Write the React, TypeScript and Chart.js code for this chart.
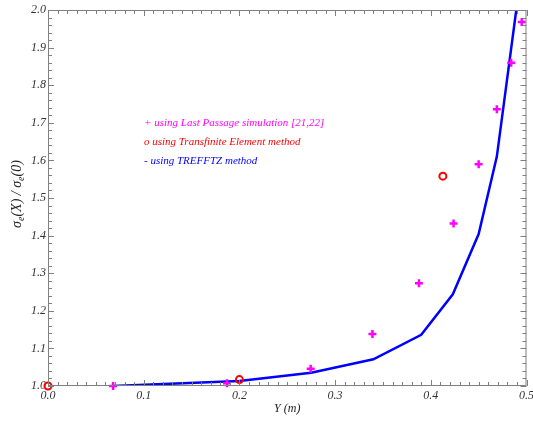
import React, { useEffect, useRef } from "react";
import { Chart, registerables } from "chart.js";

Chart.register(...registerables);

// Last Passage simulation (+)
const lpX = [0.068, 0.187, 0.2745, 0.339, 0.3876, 0.4238, 0.45, 0.469, 0.484, 0.495];
const lpY = [1.0, 1.007, 1.046, 1.138, 1.273, 1.432, 1.59, 1.736, 1.86, 1.968];

// Transfinite Element method (o)
const teX = [0.0, 0.2, 0.4126];
const teY = [1.0, 1.017, 1.558];

// TREFFTZ method (-)
const trX = [0.068, 0.2, 0.275, 0.34, 0.39, 0.423, 0.45, 0.469, 0.4893];
const trY = [1.0, 1.013, 1.035, 1.071, 1.136, 1.244, 1.404, 1.61, 2.0];

const xTickLabels = ["0.0", "0.1", "0.2", "0.3", "0.4", "0.5"];
const yTickLabels = ["1.0", "1.1", "1.2", "1.3", "1.4", "1.5", "1.6", "1.7", "1.8", "1.9", "2.0"];

const legendLines = [
  { text: "+ using Last Passage simulation [21,22]", color: "#ff00ff" },
  { text: "o using Transfinite Element method", color: "#ff0000" },
  { text: "- using TREFFTZ method", color: "#0000ff" },
];

const xTitle = "Y (m)";

const toPts = (xs: number[], ys: number[]) => xs.map((x, i) => ({ x, y: ys[i] }));

const framePlugin = {
  id: "frame",
  afterDraw(chart: any) {
    const { ctx, chartArea: a, scales } = chart;
    const xs = scales.x;
    const ys = scales.y;
    ctx.save();
    ctx.strokeStyle = "#808080";
    ctx.lineWidth = 1;
    ctx.strokeRect(a.left + 0.5, a.top + 0.5, a.right - a.left - 1, a.bottom - a.top - 1);
    ctx.beginPath();
    for (let i = 0; i <= 50; i++) {
      const v = i * 0.01;
      const px = Math.round(xs.getPixelForValue(v)) + 0.5;
      const len = i % 10 === 0 ? 6 : 4;
      ctx.moveTo(px, a.bottom);
      ctx.lineTo(px, a.bottom - len);
      ctx.moveTo(px, a.top);
      ctx.lineTo(px, a.top + len);
    }
    for (let i = 0; i <= 50; i++) {
      const v = 1 + i * 0.02;
      const py = Math.round(ys.getPixelForValue(v)) + 0.5;
      const len = i % 5 === 0 ? 6 : 4;
      ctx.moveTo(a.left, py);
      ctx.lineTo(a.left + len, py);
      ctx.moveTo(a.right, py);
      ctx.lineTo(a.right - len, py);
    }
    ctx.stroke();

    // legend text
    ctx.font = "italic 11px 'Liberation Serif', serif";
    ctx.textBaseline = "middle";
    ctx.textAlign = "left";
    legendLines.forEach((l, i) => {
      ctx.fillStyle = l.color;
      ctx.fillText(l.text, 144, 123 + i * 19);
    });

    // x title
    ctx.fillStyle = "#222";
    ctx.font = "italic 12px 'Liberation Serif', serif";
    ctx.textAlign = "center";
    ctx.fillText(xTitle, (a.left + a.right) / 2, 409);

    // y title with subscripts
    const segs = [
      { t: "σ", sub: false },
      { t: "e", sub: true },
      { t: "(X) / σ", sub: false },
      { t: "e", sub: true },
      { t: "(0)", sub: false },
    ];
    const big = "italic 14px 'Liberation Serif', serif";
    const small = "italic 10px 'Liberation Serif', serif";
    let total = 0;
    const widths = segs.map((s) => {
      ctx.font = s.sub ? small : big;
      const w = ctx.measureText(s.t).width;
      total += w;
      return w;
    });
    ctx.translate(17, 194);
    ctx.rotate(-Math.PI / 2);
    ctx.textAlign = "left";
    let cx = -total / 2;
    segs.forEach((s, i) => {
      ctx.font = s.sub ? small : big;
      ctx.fillText(s.t, cx, s.sub ? 4 : 0);
      cx += widths[i];
    });
    ctx.restore();
  },
};

export default function App() {
  const ref = useRef<HTMLCanvasElement | null>(null);
  useEffect(() => {
    if (!ref.current) return;
    const chart = new Chart(ref.current, {
      type: "scatter",
      data: {
        datasets: [
          {
            label: "Last Passage simulation",
            data: toPts(lpX, lpY),
            pointStyle: "cross",
            pointRadius: 4,
            pointBorderWidth: 2.5,
            borderColor: "#ff00ff",
            backgroundColor: "#ff00ff",
            showLine: false,
            clip: false,
          },
          {
            label: "Transfinite Element method",
            data: toPts(teX, teY),
            pointStyle: "circle",
            pointRadius: 3.5,
            pointBorderWidth: 2,
            borderColor: "#ff0000",
            backgroundColor: "rgba(0,0,0,0)",
            showLine: false,
            clip: false,
          },
          {
            label: "TREFFTZ method",
            data: toPts(trX, trY),
            showLine: true,
            borderColor: "#0000ff",
            backgroundColor: "#0000ff",
            borderWidth: 2.5,
            pointRadius: 0,
            tension: 0,
          },
        ],
      },
      options: {
        animation: false,
        responsive: false,
        maintainAspectRatio: false,
        layout: { padding: { left: 0, top: 10, right: 6, bottom: 0 } },
        plugins: { legend: { display: false }, tooltip: { enabled: false } },
        scales: {
          x: {
            type: "linear",
            min: 0,
            max: 0.5,
            afterFit: (s: any) => {
              s.height = 35;
              s.paddingLeft = 0;
              s.paddingRight = 0;
            },
            afterBuildTicks: (s: any) => {
              s.ticks = xTickLabels.map((l) => ({ value: parseFloat(l) }));
            },
            grid: { display: false, drawTicks: false },
            border: { display: false },
            ticks: {
              padding: 3,
              color: "#333",
              font: { family: "'Liberation Serif', serif", style: "italic", size: 12 },
              callback: (v: any) => {
                const f = xTickLabels.find((l) => Math.abs(parseFloat(l) - v) < 1e-6);
                return f ?? "";
              },
              maxRotation: 0,
              autoSkip: false,
            },
          },
          y: {
            type: "linear",
            min: 1,
            max: 2,
            afterFit: (s: any) => {
              s.width = 48;
              s.paddingTop = 0;
              s.paddingBottom = 0;
            },
            afterBuildTicks: (s: any) => {
              s.ticks = yTickLabels.map((l) => ({ value: parseFloat(l) }));
            },
            grid: { display: false, drawTicks: false },
            border: { display: false },
            ticks: {
              padding: 2,
              color: "#333",
              font: { family: "'Liberation Serif', serif", style: "italic", size: 12 },
              callback: (v: any) => {
                const f = yTickLabels.find((l) => Math.abs(parseFloat(l) - v) < 1e-6);
                return f ?? "";
              },
              autoSkip: false,
            },
          },
        },
      },
      plugins: [framePlugin],
    } as any);
    return () => chart.destroy();
  }, []);
  return (
    <div style={{ position: "fixed", left: 0, top: 0, width: 533, height: 421, background: "#fff" }}>
      <canvas ref={ref} width={533} height={421} style={{ width: 533, height: 421 }} />
    </div>
  );
}
